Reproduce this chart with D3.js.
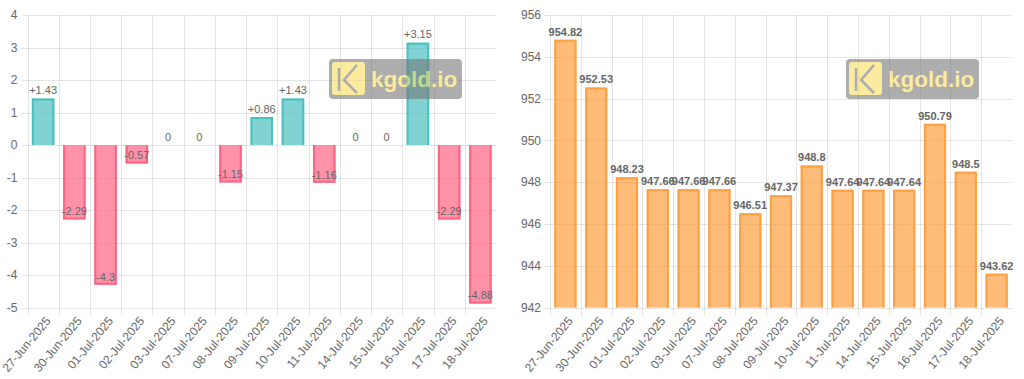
<!DOCTYPE html>
<html>
<head>
<meta charset="utf-8">
<script src="https://cdn.jsdelivr.net/npm/d3@7/dist/d3.min.js"></script>
<style>
  html, body { margin: 0; padding: 0; background: #fff; }
  svg { display: block; font-family: "Liberation Sans", Arial, Helvetica, sans-serif; }
</style>
</head>
<body>
<svg id="chart" width="1024" height="379"></svg>
<script>
const dates = ["27-Jun-2025","30-Jun-2025","01-Jul-2025","02-Jul-2025","03-Jul-2025","07-Jul-2025","08-Jul-2025","09-Jul-2025","10-Jul-2025","11-Jul-2025","14-Jul-2025","15-Jul-2025","16-Jul-2025","17-Jul-2025","18-Jul-2025"];
const changeValues = [1.43, -2.29, -4.3, -0.57, 0, 0, -1.15, 0.86, 1.43, -1.16, 0, 0, 3.15, -2.29, -4.88];
const priceValues = [954.82, 952.53, 948.23, 947.66, 947.66, 947.66, 946.51, 947.37, 948.8, 947.64, 947.64, 947.64, 950.79, 948.5, 943.62];
const changeTicks = [4, 3, 2, 1, 0, -1, -2, -3, -4, -5];
const priceTicks = [956, 954, 952, 950, 948, 946, 944, 942];
const watermarkText = "kgold.io";

const svg = d3.select("#chart");
const GRID = "rgba(0,0,0,0.1)";
const TICK_COLOR = "#666";

function drawChart(opts) {
  const g = svg.append("g");
  const x = d3.scaleBand().domain(dates).range([opts.x0, opts.x1]).paddingInner(0).paddingOuter(0);
  const y = d3.scaleLinear().domain(opts.domain).range([opts.y1, opts.y0]);
  const bw = x.bandwidth() * 0.72;

  // horizontal grid
  g.append("g").selectAll("line").data(opts.ticks).join("line")
    .attr("x1", opts.x0 - 6).attr("x2", opts.x1)
    .attr("y1", d => Math.round(y(d)) + 0.5).attr("y2", d => Math.round(y(d)) + 0.5)
    .attr("stroke", GRID).attr("stroke-width", 1);
  // vertical grid (category boundaries)
  g.append("g").selectAll("line").data(dates).join("line")
    .attr("x1", d => Math.round(x(d)) + 0.5).attr("x2", d => Math.round(x(d)) + 0.5)
    .attr("y1", opts.y0).attr("y2", opts.y1 + 8)
    .attr("stroke", GRID).attr("stroke-width", 1);

  // y tick labels
  g.append("g").selectAll("text").data(opts.ticks).join("text")
    .attr("x", opts.x0 - opts.labelGap).attr("y", d => y(d))
    .attr("dy", "0.35em").attr("text-anchor", "end")
    .attr("font-size", 12).attr("fill", TICK_COLOR)
    .text(d => d);

  // x tick labels
  g.append("g").selectAll("text").data(dates).join("text")
    .attr("transform", d => `translate(${x(d) + x.bandwidth() / 2 + 5},${opts.y1 + 11}) rotate(-50)`)
    .attr("dy", "0.35em").attr("text-anchor", "end")
    .attr("font-size", 12).attr("fill", TICK_COLOR)
    .text(d => d);

  // bars
  const base = y(opts.base);
  const bars = g.append("g");
  opts.values.forEach((v, i) => {
    const cx = x(dates[i]) + x.bandwidth() / 2;
    const yv = y(v);
    const top = Math.min(yv, base), h = Math.abs(yv - base);
    const c = opts.color(v);
    if (h <= 0) return;
    bars.append("rect")
      .attr("x", cx - bw / 2).attr("y", top).attr("width", bw).attr("height", h)
      .attr("fill", c.fill);
    // border without base edge
    const l = cx - bw / 2 + 1, r = cx + bw / 2 - 1;
    const e = v >= opts.base ? yv + 1 : yv - 1;
    bars.append("path")
      .attr("d", `M${l},${base} L${l},${e} L${r},${e} L${r},${base}`)
      .attr("fill", "none").attr("stroke", c.stroke).attr("stroke-width", 2);
  });

  // data labels
  g.append("g").selectAll("text").data(opts.values).join("text")
    .attr("x", (d, i) => x(dates[i]) + x.bandwidth() / 2)
    .attr("y", d => y(d) - 8)
    .attr("dy", "0.35em").attr("text-anchor", "middle")
    .attr("font-size", 11).attr("font-weight", opts.labelWeight)
    .attr("fill", TICK_COLOR)
    .text(opts.format);

  // watermark
  const wm = g.append("g").attr("opacity", 0.6);
  const wx = opts.wmX, wy = 59;
  wm.append("rect").attr("x", wx).attr("y", wy).attr("width", 133).attr("height", 40)
    .attr("rx", 4).attr("fill", "#777");
  wm.append("rect").attr("x", wx + 3).attr("y", wy + 3).attr("width", 33).attr("height", 33)
    .attr("rx", 3).attr("fill", "#f7de5e");
  wm.append("path")
    .attr("d", `M${wx + 10},${wy + 9} L${wx + 10},${wy + 32} M${wx + 28},${wy + 6} L${wx + 15},${wy + 21} L${wx + 28},${wy + 34}`)
    .attr("fill", "none").attr("stroke", "#777").attr("stroke-width", 2.5);
  wm.append("text").attr("x", wx + 42).attr("y", wy + 28)
    .attr("font-size", 22.5).attr("font-weight", "bold").attr("fill", "#f7de5e")
    .text(watermarkText);
}

drawChart({
  x0: 27.5, x1: 496, y0: 15, y1: 307.5,
  domain: [-5, 4], ticks: changeTicks, base: 0, values: changeValues,
  labelGap: 10,
  color: v => v >= 0 ? { fill: "rgba(75,192,192,0.7)", stroke: "rgb(75,192,192)" }
                      : { fill: "rgba(255,99,132,0.7)", stroke: "rgb(255,99,132)" },
  format: d => d > 0 ? "+" + d : String(d),
  labelWeight: "normal",
  wmX: 329
});

drawChart({
  x0: 550, x1: 1012, y0: 15, y1: 307.5,
  domain: [942, 956], ticks: priceTicks, base: 942, values: priceValues,
  labelGap: 9,
  color: v => ({ fill: "rgba(255,159,64,0.7)", stroke: "rgb(255,159,64)" }),
  format: d => String(d),
  labelWeight: "bold",
  wmX: 846
});
</script>
</body>
</html>
